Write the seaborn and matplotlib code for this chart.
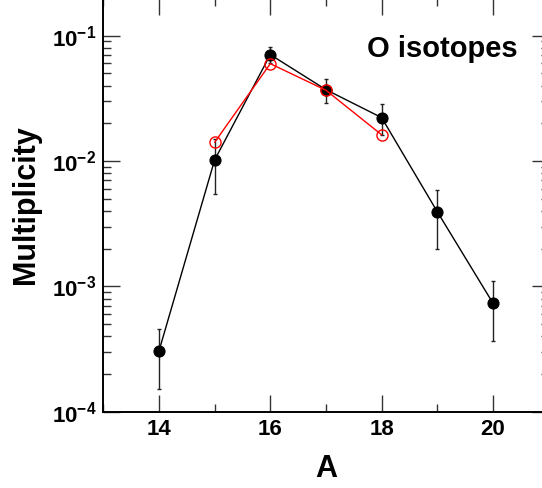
import numpy as np
import pandas as pd
import seaborn as sns
import matplotlib
matplotlib.use("Agg")
import matplotlib.pyplot as plt
from matplotlib.ticker import LogLocator, NullFormatter, FixedLocator

# measured multiplicities of O isotopes (black) and model (red)
mass_exp = [14, 15, 16, 17, 18, 19, 20]
mult_exp = [3.05e-4, 1.02e-2, 7.06e-2, 3.71e-2, 2.22e-2, 3.94e-3, 7.35e-4]
err_lo = [1.53e-4, 5.5e-3, 6.1e-2, 2.9e-2, 1.6e-2, 1.98e-3, 3.69e-4]
err_hi = [4.55e-4, 1.49e-2, 8.07e-2, 4.52e-2, 2.87e-2, 5.9e-3, 1.11e-3]

mass_calc = [15, 16, 17, 18]
mult_calc = [1.41e-2, 5.98e-2, 3.67e-2, 1.62e-2]

sns.set_theme(style="ticks")
plt.rcParams["font.family"] = ["Liberation Sans", "DejaVu Sans"]
plt.rcParams["font.weight"] = "bold"
plt.rcParams["mathtext.fontset"] = "custom"
plt.rcParams["mathtext.rm"] = "Liberation Sans:bold"
plt.rcParams["mathtext.bf"] = "Liberation Sans:bold"
plt.rcParams["mathtext.default"] = "bf"
for key in ["text.color", "axes.labelcolor", "xtick.color", "ytick.color", "axes.edgecolor"]:
    plt.rcParams[key] = "black"

exp = pd.DataFrame({"A": mass_exp, "M": mult_exp})
calc = pd.DataFrame({"A": mass_calc, "M": mult_calc})

fig = plt.figure(figsize=(5.42, 4.88), dpi=100)
ax = fig.add_axes([0.1906, 0.1563, 0.8216, 0.8479])

yerr = [np.array(mult_exp) - np.array(err_lo), np.array(err_hi) - np.array(mult_exp)]
ax.errorbar(mass_exp, mult_exp, yerr=yerr, fmt="none", ecolor="#222222",
            elinewidth=1.0, capsize=1.5, capthick=1.0, zorder=2)

sns.lineplot(data=exp, x="A", y="M", ax=ax, color="black", linewidth=1.0,
             marker="o", markersize=8, markeredgecolor="black", zorder=3)
sns.lineplot(data=calc, x="A", y="M", ax=ax, color="red", linewidth=1.0,
             marker="o", markersize=8, markerfacecolor="none",
             markeredgecolor="red", markeredgewidth=1.0, zorder=4)

ax.set_yscale("log")
ax.set_xlim(13, 21)
ax.set_ylim(1e-4, 0.2)

ax.xaxis.set_major_locator(FixedLocator([14, 16, 18, 20]))
ax.xaxis.set_minor_locator(FixedLocator([13, 15, 17, 19, 21]))
ax.yaxis.set_major_locator(LogLocator(base=10, numticks=10))
ax.yaxis.set_minor_locator(LogLocator(base=10, subs=np.arange(2, 10), numticks=20))
ax.yaxis.set_minor_formatter(NullFormatter())

ax.tick_params(which="both", direction="in", top=True, right=True, width=1.0,
               color="#333333", labelcolor="black")
ax.tick_params(which="major", length=12, labelsize=16, pad=5)
ax.tick_params(which="minor", length=6)
for lab in ax.get_xticklabels() + ax.get_yticklabels():
    lab.set_fontweight("bold")

for s in ax.spines.values():
    s.set_linewidth(1.4)
    s.set_color("black")

ax.set_xlabel("A", fontsize=22, fontweight="bold", labelpad=10, color="black")
ax.set_ylabel("Multiplicity", fontsize=22, fontweight="bold", labelpad=8, color="black")

ax.text(0.761, 0.877, "O isotopes", transform=ax.transAxes, ha="center",
        va="center", fontsize=21, fontweight="bold", color="black")

fig.savefig("out.png", dpi=100)
